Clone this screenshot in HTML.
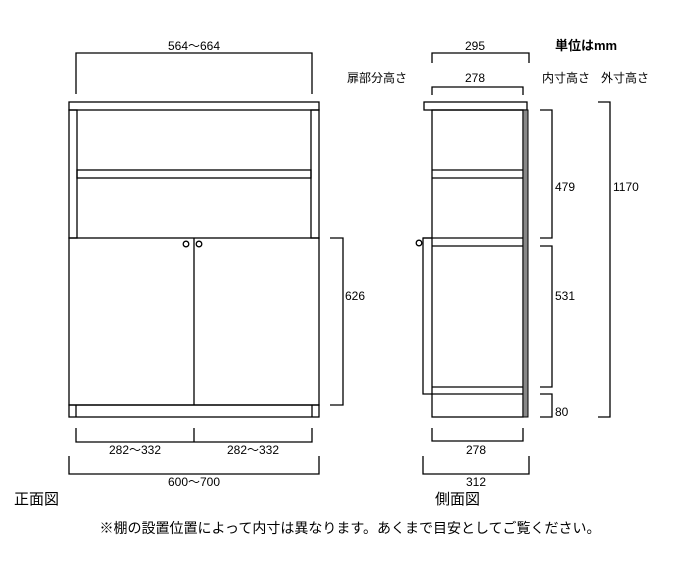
<!DOCTYPE html>
<html><head><meta charset="utf-8"><style>
body{margin:0;background:#fff}
svg text{font-family:"Liberation Sans","Noto Sans CJK JP",sans-serif;fill:#000}
</style></head><body>
<svg width="700" height="556" viewBox="0 0 700 556" xmlns="http://www.w3.org/2000/svg">
<g fill="none" stroke="#000" stroke-width="1.3">
<!-- front view -->
<path d="M76 94V53H312V94"/>
<rect x="69" y="102" width="250" height="8"/>
<rect x="69" y="110" width="8" height="128"/>
<rect x="311" y="110" width="8" height="128"/>
<rect x="77" y="170" width="234" height="8"/>
<rect x="69" y="238" width="250" height="167"/>
<line x1="194" y1="238" x2="194" y2="405"/>
<circle cx="186" cy="244" r="2.8"/>
<circle cx="199" cy="244" r="2.8"/>
<rect x="69" y="405" width="250" height="12"/>
<line x1="76" y1="405" x2="76" y2="417"/>
<line x1="312" y1="405" x2="312" y2="417"/>
<path d="M330 238H343V405H330"/>
<path d="M76 428V442H312V428M194 428V442"/>
<path d="M69 456V474H319V456"/>
<!-- side view -->
<path d="M432 63V53H529V63"/>
<path d="M432 95V87H523V95"/>
<rect x="424" y="102" width="103" height="8"/>
<rect x="432" y="110" width="91" height="307"/>
<line x1="432" y1="170" x2="523" y2="170"/>
<line x1="432" y1="178" x2="523" y2="178"/>
<line x1="432" y1="246" x2="523" y2="246"/>
<line x1="432" y1="387" x2="523" y2="387"/>
<path d="M432 238H423V394H523"/>
<line x1="423" y1="238" x2="523" y2="238"/>
<circle cx="419" cy="243" r="2.8"/>
<path d="M540 110H552V238H540"/>
<path d="M540 246H552V387H540"/>
<path d="M540 394H552V417H540"/>
<path d="M598 102H610V417H598"/>
<path d="M432 428V441H523V428"/>
<path d="M423 456V474H529V456"/>
</g>
<rect x="523" y="110" width="5" height="307" fill="#888" stroke="#000" stroke-width="1"/>
<g font-size="12">
<text x="194" y="50" text-anchor="middle">564～664</text>
<text x="347" y="82">扉部分高さ</text>
<text x="345" y="300">626</text>
<text x="135" y="454" text-anchor="middle">282～332</text>
<text x="253" y="454" text-anchor="middle">282～332</text>
<text x="194" y="486" text-anchor="middle">600～700</text>
<text x="475" y="50" text-anchor="middle">295</text>
<text x="475" y="82" text-anchor="middle">278</text>
<text x="555" y="50" font-weight="bold" font-size="13">単位はmm</text>
<text x="542" y="82">内寸高さ</text>
<text x="601" y="82">外寸高さ</text>
<text x="555" y="191">479</text>
<text x="555" y="300">531</text>
<text x="555" y="416">80</text>
<text x="613" y="191">1170</text>
<text x="476" y="454" text-anchor="middle">278</text>
<text x="476" y="486" text-anchor="middle">312</text>
</g>
<text x="14" y="504" font-size="15">正面図</text>
<text x="435" y="504" font-size="15">側面図</text>
<text x="350" y="533" font-size="14" text-anchor="middle">※棚の設置位置によって内寸は異なります。あくまで目安としてご覧ください。</text>
</svg>
</body></html>
